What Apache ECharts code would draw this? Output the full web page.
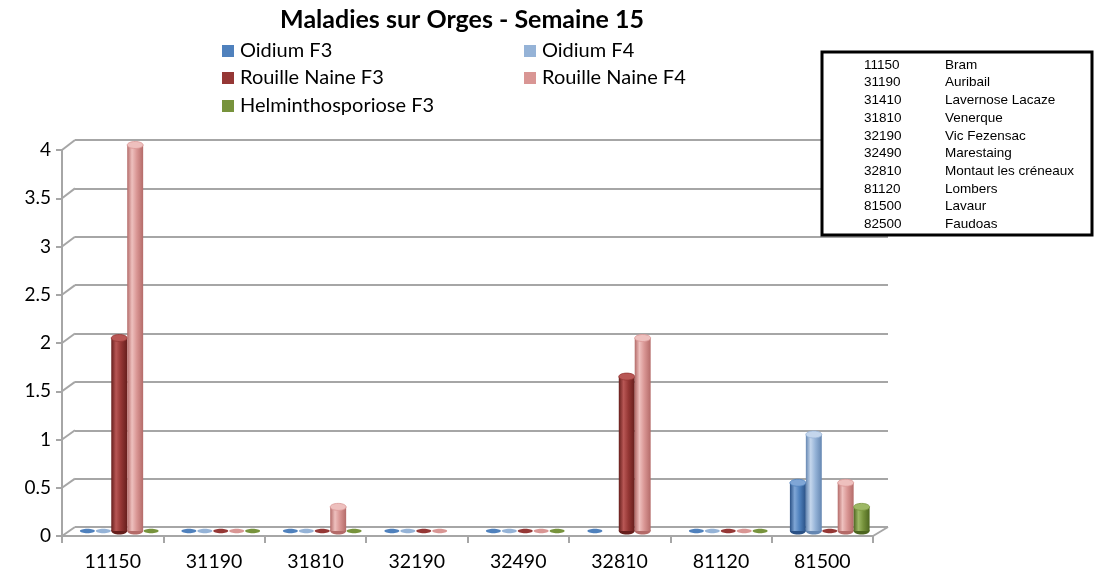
<!DOCTYPE html>
<html>
<head>
<meta charset="utf-8">
<script src="https://cdn.jsdelivr.net/npm/echarts/dist/echarts.min.js"></script>
<style>
  html, body { margin: 0; padding: 0; background: #fff; }
  #chart { width: 1096px; height: 575px; }
</style>
</head>
<body>
<div id="chart"></div>
<script>
// postes (codes postaux) sur l'axe
const categories = ['11150', '31190', '31810', '32190', '32490', '32810', '81120', '81500'];

// notes par maladie ; null = pas d'observation
const oidiumF3   = [0, 0, 0,    0,    0, 0,    0, 0.5];
const oidiumF4   = [0, 0, 0,    0,    0, null, 0, 1];
const rouilleF3  = [2, 0, 0,    0,    0, 1.6,  0, 0];
const rouilleF4  = [4, 0, 0.25, 0,    0, 2,    0, 0.5];
const helminthoF3 = [0, 0, 0,   null, 0, null, 0, 0.25];

const seriesNames = ['Oidium F3', 'Oidium F4', 'Rouille Naine F3', 'Rouille Naine F4', 'Helminthosporiose F3'];
const seriesData = [oidiumF3, oidiumF4, rouilleF3, rouilleF4, helminthoF3];
// base, dark, light
const palette = [
  ['#4F81BD', '#2A5186', '#7FA6D6'],
  ['#95B3D7', '#6587B2', '#C4D6EC'],
  ['#953735', '#661E1C', '#B85755'],
  ['#D99694', '#B46B69', '#EEC0BE'],
  ['#77933C', '#4D6620', '#9DB865']
];

// tableau des communes
const tableCodes = ['11150', '31190', '31410', '31810', '32190', '32490', '32810', '81120', '81500', '82500'];
const tableNames = ['Bram', 'Auribail', 'Lavernose Lacaze', 'Venerque', 'Vic Fezensac', 'Marestaing',
                    'Montaut les créneaux', 'Lombers', 'Lavaur', 'Faudoas'];

const yTicks = [0, 0.5, 1, 1.5, 2, 2.5, 3, 3.5, 4];

const FONT = 'Lato';
const GRAY = '#a6a6a6';

const chart = echarts.init(document.getElementById('chart'), null, {renderer: 'canvas'});

function cylinder(idx) {
  const [base, dark, light] = palette[idx];
  return function (params, api) {
    const v = api.value(1);
    if (v == null || isNaN(v)) return;
    const cat = api.value(0);
    const p0 = api.coord([cat, 0]);
    const p1 = api.coord([cat, v]);
    const band = api.size([1, 0])[0];
    const w = band * 0.157;
    const cx = p0[0] + (idx - 2) * w;
    const rx = w / 2;
    if (v === 0) {
      return {
        type: 'ellipse',
        shape: {cx: cx, cy: p0[1], rx: rx - 0.5, ry: 2.2},
        style: {fill: base}
      };
    }
    const grad = new echarts.graphic.LinearGradient(0, 0, 1, 0, [
      {offset: 0, color: dark},
      {offset: 0.3, color: light},
      {offset: 0.6, color: base},
      {offset: 1, color: dark}
    ]);
    return {
      type: 'group',
      children: [
        {type: 'ellipse', shape: {cx: cx, cy: p0[1], rx: rx, ry: 3.5}, style: {fill: dark}},
        {type: 'rect', shape: {x: cx - rx, y: p1[1], width: rx * 2, height: p0[1] - p1[1]}, style: {fill: grad}},
        {type: 'ellipse', shape: {cx: cx, cy: p1[1], rx: rx, ry: 3.5}, style: {fill: light, stroke: base, lineWidth: 0.8}}
      ]
    };
  };
}

const legendPos = [[222, 41], [524, 41], [222, 68], [524, 68], [222, 96]];

const option = {
  animation: false,
  title: {
    text: 'Maladies sur Orges - Semaine 15',
    left: 457, top: 2, textAlign: 'center',
    textStyle: {fontFamily: FONT, fontSize: 25, fontWeight: 'bold', color: '#000'}
  },
  legend: seriesNames.map((n, i) => ({
    data: [n],
    left: legendPos[i][0], top: legendPos[i][1], padding: 0,
    icon: 'rect', itemWidth: 12, itemHeight: 12, itemGap: 6,
    textStyle: {fontFamily: FONT, fontSize: 20, color: '#000', padding: [0, 0, 0, 1]},
    selectedMode: false
  })),
  grid: [
    {left: 62, right: 223, top: 150, bottom: 39},   // plan avant (axes)
    {left: 75, right: 208, top: 140, bottom: 48},   // mur du fond
    {left: 68.5, right: 215.5, top: 145, bottom: 44} // plan des barres
  ],
  xAxis: [
    {
      gridIndex: 0, type: 'category', data: categories,
      axisLine: {lineStyle: {color: GRAY, width: 2}},
      axisTick: {show: true, length: 7, lineStyle: {color: GRAY, width: 2}},
      axisLabel: {fontFamily: FONT, fontSize: 19.5, color: '#000', margin: 16}
    },
    {gridIndex: 1, type: 'category', data: categories, show: false},
    {gridIndex: 2, type: 'category', data: categories, show: false}
  ],
  yAxis: [
    {
      gridIndex: 0, type: 'value', min: 0, max: 4, interval: 0.5,
      axisLine: {show: true, lineStyle: {color: GRAY, width: 2}},
      axisTick: {show: true, length: 6, lineStyle: {color: GRAY, width: 2}},
      splitLine: {show: false},
      axisLabel: {fontFamily: FONT, fontSize: 19, color: '#000', margin: 11}
    },
    {
      gridIndex: 1, type: 'value', min: 0, max: 4, interval: 0.5,
      axisLine: {show: false}, axisTick: {show: false}, axisLabel: {show: false},
      splitLine: {show: true, lineStyle: {color: GRAY, width: 2}}
    },
    {gridIndex: 2, type: 'value', min: 0, max: 4, interval: 0.5, show: false}
  ],
  series: seriesNames.map((n, i) => ({
    name: n,
    type: 'custom',
    xAxisIndex: 2, yAxisIndex: 2,
    itemStyle: {color: palette[i][0]},
    renderItem: cylinder(i),
    encode: {x: 0, y: 1},
    data: seriesData[i].map((v, j) => [j, v == null ? NaN : v]),
    z: 5
  }))
};

chart.setOption(option);

// décor 3D : diagonales, sol, tableau
const g = [];
yTicks.forEach(v => {
  const f = chart.convertToPixel({xAxisIndex: 0, yAxisIndex: 0}, [0, v]);
  const b = chart.convertToPixel({xAxisIndex: 1, yAxisIndex: 1}, [0, v]);
  g.push({type: 'line', shape: {x1: 62, y1: f[1], x2: 75, y2: b[1]},
          style: {stroke: GRAY, lineWidth: 2}, z: 1});
});
const fr = chart.convertToPixel({xAxisIndex: 0, yAxisIndex: 0}, [0, 0]);
const br = chart.convertToPixel({xAxisIndex: 1, yAxisIndex: 1}, [0, 0]);
g.push({type: 'line', shape: {x1: 873, y1: fr[1], x2: 888, y2: br[1]},
        style: {stroke: GRAY, lineWidth: 2}, z: 1});

// tableau des communes
g.push({type: 'rect', shape: {x: 822, y: 52, width: 270, height: 183},
        style: {fill: '#fff', stroke: '#000', lineWidth: 3}, z: 10});
tableCodes.forEach((c, i) => {
  const y = 65 + i * 17.7;
  g.push({type: 'text', x: 864, y: y, z: 11,
          style: {text: c, fontFamily: 'Liberation Sans', fontSize: 13.5, fill: '#000', verticalAlign: 'middle'}});
  g.push({type: 'text', x: 945, y: y, z: 11,
          style: {text: tableNames[i], fontFamily: 'Liberation Sans', fontSize: 13.5, fill: '#000', verticalAlign: 'middle'}});
});

chart.setOption({graphic: g});
</script>
</body>
</html>
